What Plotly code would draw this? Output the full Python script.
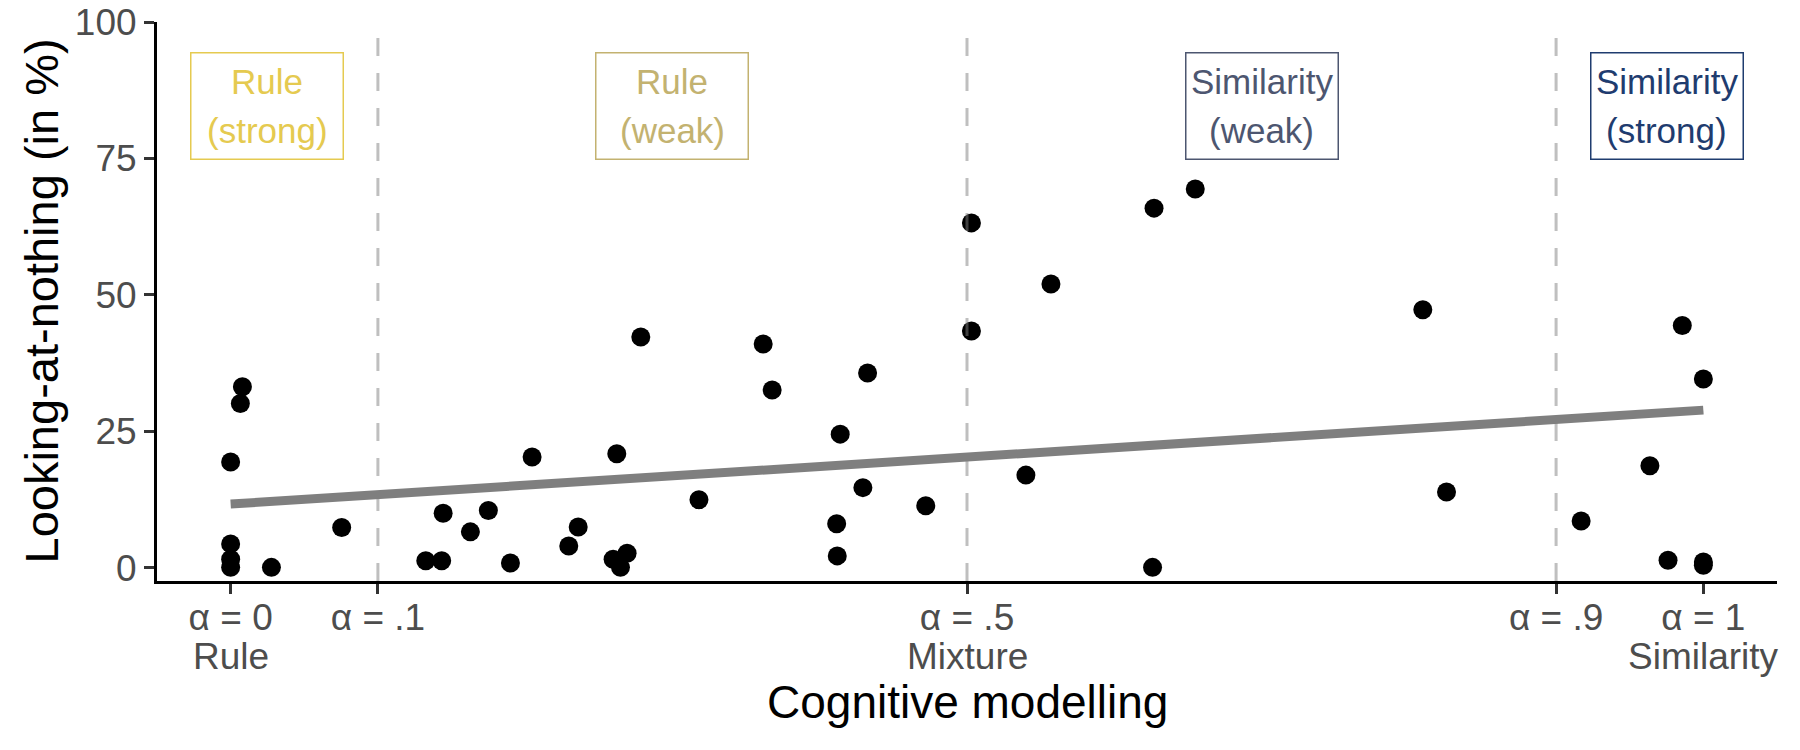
import plotly.graph_objects as go

# cognitive-model weight (alpha) and looking-at-nothing percentage per participant
alpha = [0.008, 0.0066, 0.0, 0.0, 0.0, 0.0, 0.0277, 0.0754,
         0.1325, 0.1433, 0.1443, 0.1628, 0.175, 0.190, 0.2047, 0.2296,
         0.236, 0.2597, 0.2622, 0.2647, 0.2692, 0.2785, 0.318, 0.3616,
         0.3677, 0.4115, 0.4119, 0.4139, 0.4293, 0.4325, 0.472, 0.503,
         0.503, 0.540, 0.557, 0.626, 0.627, 0.655, 0.8095, 0.8256,
         0.917, 0.9637, 0.9857, 0.976, 1.0, 1.0, 1.0]
looking = [33.2, 30.1, 19.4, 4.4, 1.6, 0.1, 0.1, 7.4,
           1.3, 1.3, 10.0, 6.6, 10.5, 0.9, 20.3, 4.0,
           7.5, 1.6, 20.9, 0.1, 2.7, 42.3, 12.5, 41.0,
           32.6, 8.1, 2.2, 24.5, 14.7, 35.7, 11.4, 63.2,
           43.4, 17.0, 52.0, 0.1, 65.9, 69.4, 47.3, 13.9,
           8.6, 18.7, 44.4, 1.4, 34.6, 1.1, 0.5]

# linear fit
fit_alpha = [0, 1]
fit_looking = [11.7, 28.9]

boundaries = [0.1, 0.5, 0.9]
tick_vals = [0, 0.1, 0.5, 0.9, 1]
tick_text = ["α = 0", "α = .1", "α = .5", "α = .9", "α = 1"]
model_alpha = [0, 0.5, 1]
model_names = ["Rule", "Mixture", "Similarity"]
y_ticks = [0, 25, 50, 75, 100]

label_alpha = [0.025, 0.3, 0.7, 0.975]
label_y = [84.6, 84.6, 84.6, 84.6]
label_top = ["Rule", "Rule", "Similarity", "Similarity"]
label_bottom = ["(strong)", "(weak)", "(weak)", "(strong)"]
label_colors = ["#E5CA50", "#C3B270", "#4D5670", "#1F3C6F"]

font = "Liberation Sans, Arial, sans-serif"

fig = go.Figure()

fig.add_trace(go.Scatter(x=fit_alpha, y=fit_looking, mode="lines",
                         line=dict(color="rgba(0,0,0,0.5)", width=9),
                         showlegend=False, hoverinfo="skip"))
fig.add_trace(go.Scatter(x=alpha, y=looking, mode="markers",
                         marker=dict(color="black", size=19),
                         showlegend=False))

for b in boundaries:
    fig.add_vline(x=b, line=dict(color="rgba(128,128,128,0.5)", width=3, dash="18px,17px"),
                  layer="above")

# labelled boxes: a bordered frame plus two text lines
for xa, ya, top, bottom, col in zip(label_alpha, label_y, label_top, label_bottom, label_colors):
    fig.add_annotation(x=xa, y=ya, xref="x", yref="y", text=" ", showarrow=False,
                       bordercolor=col, borderwidth=1.5, borderpad=0,
                       bgcolor="white", width=151, height=105)
    fig.add_annotation(x=xa, y=ya, xref="x", yref="y", text=top, showarrow=False,
                       yshift=24.5, font=dict(family=font, size=35, color=col))
    fig.add_annotation(x=xa, y=ya, xref="x", yref="y", text=bottom, showarrow=False,
                       yshift=-24.5, font=dict(family=font, size=35, color=col))

# second row of x tick labels
for xa, name in zip(model_alpha, model_names):
    fig.add_annotation(x=xa, y=0, xref="x", yref="paper", yshift=-75,
                       xanchor="center", yanchor="middle", showarrow=False,
                       text=name, font=dict(family=font, size=37, color="#4D4D4D"))

# axis titles
fig.add_annotation(x=0.5, y=0, xref="paper", yref="paper", yshift=-121,
                   xanchor="center", yanchor="middle", showarrow=False,
                   text="Cognitive modelling", font=dict(family=font, size=46, color="black"))
fig.add_annotation(x=0, y=0.5, xref="paper", yref="paper", xshift=-116,
                   xanchor="center", yanchor="middle", showarrow=False, textangle=-90,
                   text="Looking-at-nothing (in %)", font=dict(family=font, size=47, color="black"))

fig.update_layout(
    width=1800, height=750,
    margin=dict(l=157, r=23, t=22, b=169),
    plot_bgcolor="white", paper_bgcolor="white",
    font=dict(family=font),
    xaxis=dict(range=[-0.05, 1.05], showgrid=False, zeroline=False, automargin=False,
               showline=True, linecolor="black", linewidth=3,
               ticks="outside", ticklen=10, tickwidth=3, tickcolor="#333333",
               tickvals=tick_vals, ticktext=tick_text, ticklabelstandoff=-8,
               tickfont=dict(size=37, color="#4D4D4D")),
    yaxis=dict(range=[-2.4, 100], showgrid=False, zeroline=False, automargin=False,
               showline=True, linecolor="black", linewidth=3,
               ticks="outside", ticklen=10, tickwidth=3, tickcolor="#333333",
               tickvals=y_ticks, ticklabelstandoff=0,
               tickfont=dict(size=37, color="#4D4D4D")),
)

# drop the default page margin so the figure sits at the window's corner
fig.write_html("out.html", config={"displayModeBar": False},
               post_script="document.body.style.margin='0';")
